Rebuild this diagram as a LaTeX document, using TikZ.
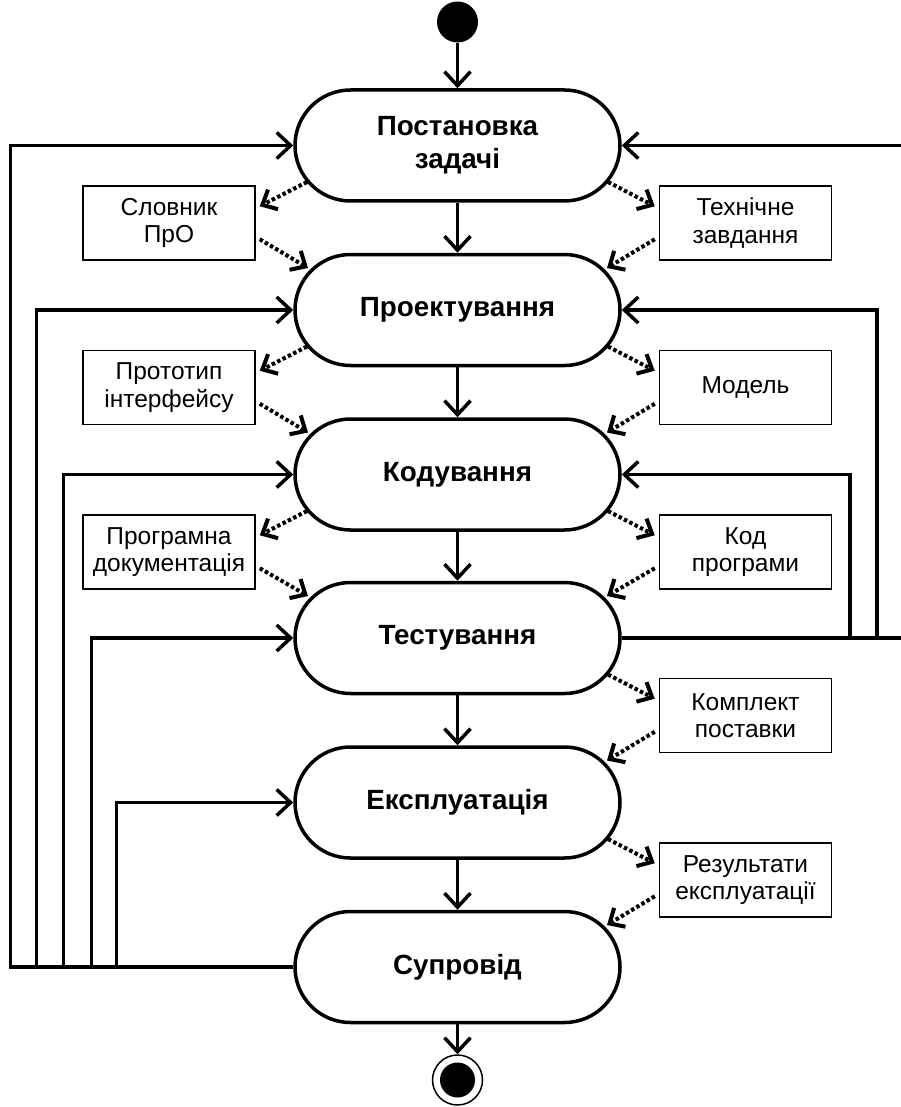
\documentclass[tikz,border=0pt]{standalone}
\usepackage{fontspec}
\setmainfont{Liberation Sans}
\usetikzlibrary{shapes.misc,arrows.meta,calc}
\tikzset{
  stage/.style={rounded rectangle, draw, line width=3.5pt, minimum width=325pt,
    minimum height=111pt, inner sep=0pt, align=center,
    font=\fontsize{27.8}{33}\selectfont\bfseries},
  doc/.style={rectangle, draw, line width=1.5pt, minimum width=172pt,
    minimum height=74pt, inner sep=0pt, align=center,
    font=\fontsize{24.5}{27.5}\selectfont},
  flow/.style={line width=3.5pt, -{Straight Barb[length=14pt,width=26pt]}},
  dep/.style={line width=4pt, dash pattern=on 3.5pt off 2.5pt,
    -{Straight Barb[length=12pt,width=22pt]}},
  startnode/.style={circle, fill=black, minimum size=41pt, inner sep=0pt},
  endnode/.style={circle, draw, line width=1.5pt, minimum size=50pt, inner sep=0pt},
}
\begin{document}
\begin{tikzpicture}[x=1pt,y=-1pt]
\useasboundingbox (0,0) rectangle (900,1107);
\fill[white] (0,0) rectangle (900,1107);
% nodes
\node[startnode] (st) at (457.5,22) {};
\node[stage] (s1) at (457.5,145.5) {Постановка\\задачі};
\node[stage] (s2) at (457.5,310) {Проектування};
\node[stage] (s3) at (457.5,474.5) {Кодування};
\node[stage] (s4) at (457.5,638) {Тестування};
\node[stage] (s5) at (457.5,802.5) {Експлуатація};
\node[stage] (s6) at (457.5,967) {Супровід};
\node[endnode] (en) at (457.5,1080) {};
\fill (en.center) circle (17.5);

\node[doc] (lb1) at (169,223) {Словник\\ПрО};
\node[doc] (lb2) at (169,387.5) {Прототип\\інтерфейсу};
\node[doc] (lb3) at (169,552) {Програмна\\документація};
\node[doc] (rb1) at (745.5,223) {Технічне\\завдання};
\node[doc] (rb2) at (745.5,387.5) {Модель};
\node[doc] (rb3) at (745.5,552) {Код\\програми};
\node[doc] (rb4) at (745.5,715.5) {Комплект\\поставки};
\node[doc] (rb5) at (745.5,880) {Результати\\експлуатації};

% main flow
\draw[flow] (st) -- (s1.north);
\draw[flow] (s1.south) -- (s2.north);
\draw[flow] (s2.south) -- (s3.north);
\draw[flow] (s3.south) -- (s4.north);
\draw[flow] (s4.south) -- (s5.north);
\draw[flow] (s5.south) -- (s6.north);
\draw[flow] (s6.south) -- (en.north);

% left feedback
\draw[flow] (s6.west) -- ++(-283,0) |- (s1.west);
\draw[flow] (s6.west) -- ++(-257,0) |- (s2.west);
\draw[flow] (s6.west) -- ++(-230,0) |- (s3.west);
\draw[flow] (s6.west) -- ++(-202,0) |- (s4.west);
\draw[flow] (s6.west) -- ++(-177,0) |- (s5.west);

% right feedback
\draw[flow] (s4.east) -- ++(284,0) |- (s1.east);
\draw[flow] (s4.east) -- ++(255,0) |- (s2.east);
\draw[flow] (s4.east) -- ++(228,0) |- (s3.east);

% artefacts, left
\draw[dep] ($(s1.center)+(-150.5,36.5)$) -- ($(lb1.north east)+(4,21)$);
\draw[dep] ($(lb1.north east)+(4,54)$) -- ($(s2.center)+(-149.5,-42)$);
\draw[dep] ($(s2.center)+(-150.5,36.5)$) -- ($(lb2.north east)+(4,21)$);
\draw[dep] ($(lb2.north east)+(4,54)$) -- ($(s3.center)+(-149.5,-42)$);
\draw[dep] ($(s3.center)+(-150.5,36.5)$) -- ($(lb3.north east)+(4,21)$);
\draw[dep] ($(lb3.north east)+(4,54)$) -- ($(s4.center)+(-149.5,-42)$);
% artefacts, right
\draw[dep] ($(s1.center)+(150.5,36.5)$) -- ($(rb1.north west)+(-4,21)$);
\draw[dep] ($(rb1.north west)+(-4,54)$) -- ($(s2.center)+(149.5,-42)$);
\draw[dep] ($(s2.center)+(150.5,36.5)$) -- ($(rb2.north west)+(-4,21)$);
\draw[dep] ($(rb2.north west)+(-4,54)$) -- ($(s3.center)+(149.5,-42)$);
\draw[dep] ($(s3.center)+(150.5,36.5)$) -- ($(rb3.north west)+(-4,21)$);
\draw[dep] ($(rb3.north west)+(-4,54)$) -- ($(s4.center)+(149.5,-42)$);
\draw[dep] ($(s4.center)+(150.5,36.5)$) -- ($(rb4.north west)+(-4,21)$);
\draw[dep] ($(rb4.north west)+(-4,54)$) -- ($(s5.center)+(149.5,-42)$);
\draw[dep] ($(s5.center)+(150.5,36.5)$) -- ($(rb5.north west)+(-4,21)$);
\draw[dep] ($(rb5.north west)+(-4,54)$) -- ($(s6.center)+(149.5,-42)$);
\end{tikzpicture}
\end{document}
